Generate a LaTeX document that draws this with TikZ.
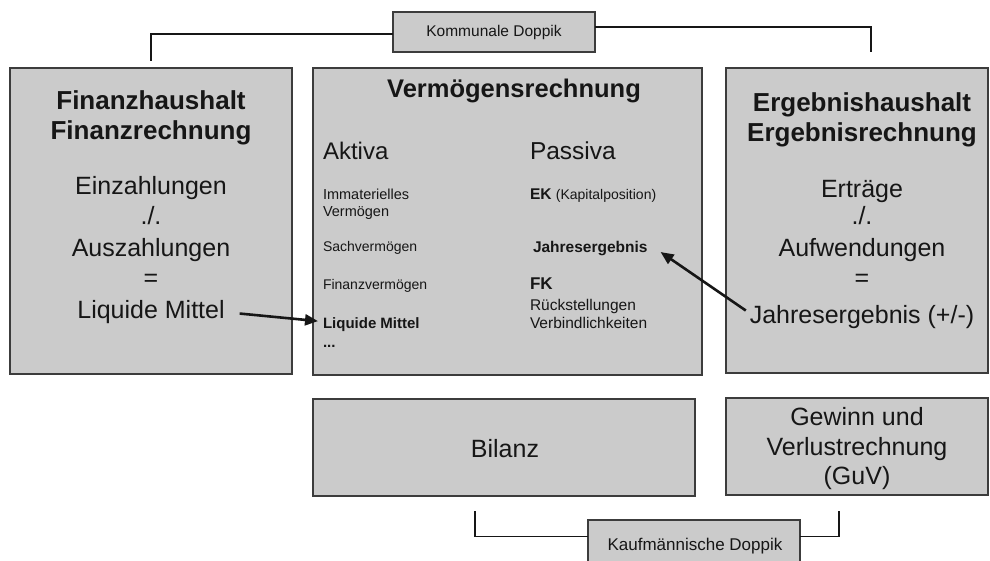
\documentclass[tikz,border=0pt]{standalone}
\usepackage{fontspec}
\setmainfont{Liberation Sans}
\usetikzlibrary{arrows.meta,calc}
\definecolor{boxfill}{RGB}{203,203,203}
\definecolor{edge}{RGB}{60,60,60}
\definecolor{ink}{RGB}{22,22,22}
\newcommand{\fsz}[1]{\fontsize{#1pt}{#1pt}\selectfont}
\tikzset{
  panel/.style={draw=edge, line width=1.3pt, fill=boxfill, inner sep=0pt, outer sep=0pt, anchor=north west},
  txt/.style={inner sep=0pt, outer sep=0pt, text=ink, anchor=base},
  txtl/.style={txt, anchor=base west},
  link/.style={draw=ink, line width=1.1pt},
  arr/.style={draw=ink, line width=2.6pt, -{Triangle[length=13pt,width=11pt]}},
  big/.style={font=\fsz{25}},
  bigb/.style={font=\fsz{26}\bfseries},
}
\begin{document}
\begin{tikzpicture}[x=1pt,y=-1pt]
\clip (0,0) rectangle (990,561);
\fill[white] (0,0) rectangle (990,561);

% panels
\node[panel, minimum width=282, minimum height=306] (fin) at (10,68) {};
\node[panel, minimum width=389, minimum height=307] (verm) at (313,68) {};
\node[panel, minimum width=262, minimum height=305] (erg) at (726,68) {};
\node[panel, minimum width=382, minimum height=97] (bil) at (313,399) {};
\node[panel, minimum width=262, minimum height=97] (guv) at (726,398) {};
\node[panel, minimum width=202, minimum height=40] (kom) at (393,12) {};
\node[panel, minimum width=212, minimum height=45] (kauf) at (588,520) {};

% label boxes text
\node[txt, font=\fsz{15.5}] (komt) at (494,37) {Kommunale Doppik};
\node[txt, font=\fsz{17}] (kauft) at (695,550) {Kaufmännische Doppik};

% left panel
\node[txt, bigb] (f1) at (151,110) {Finanzhaushalt};
\node[txt, bigb] (f2) at (151,140) {Finanzrechnung};
\node[txt, big] (f3) at (151,195) {Einzahlungen};
\node[txt, big] (f4) at (151,225) {./.};
\node[txt, big] (f5) at (151,257) {Auszahlungen};
\node[txt, big] (f6) at (151,287) {=};
\node[txt, big] (f7) at (151,318) {Liquide Mittel};

% middle panel
\node[txt, font=\fsz{25.5}\bfseries] (v0) at (514,98) {Vermögensrechnung};
\node[txtl, font=\fsz{24}] (va) at (323,160) {Aktiva};
\node[txtl, font=\fsz{24.5}] (vp) at (530,160) {Passiva};
\node[txtl, font=\fsz{14.5}] (a1) at (323,200) {Immaterielles};
\node[txtl, font=\fsz{14.5}] (a2) at (323,217) {Vermögen};
\node[txtl, font=\fsz{14}] (a3) at (323,252) {Sachvermögen};
\node[txtl, font=\fsz{14}] (a4) at (323,290) {Finanzvermögen};
\node[txtl, font=\fsz{15}\bfseries] (a5) at (323,328) {Liquide Mittel};
\node[txtl, font=\fsz{15}\bfseries] (a6) at (323,347) {...};
\node[txtl, font=\fsz{14}] (p1) at (530,200) {\fsz{15.5}\bfseries EK \fsz{14}\mdseries(Kapitalposition)};
\node[txtl, font=\fsz{15.5}\bfseries] (p2) at (533,253) {Jahresergebnis};
\node[txtl, font=\fsz{17}\bfseries] (p3) at (530,290) {FK};
\node[txtl, font=\fsz{15.5}] (p4) at (530,310) {Rückstellungen};
\node[txtl, font=\fsz{15.5}] (p5) at (530,328) {Verbindlichkeiten};

% right panel
\node[txt, bigb] (e1) at (862,112) {Ergebnishaushalt};
\node[txt, bigb] (e2) at (862,142) {Ergebnisrechnung};
\node[txt, big] (e3) at (862,198) {Erträge};
\node[txt, big] (e4) at (862,225) {./.};
\node[txt, big] (e5) at (862,257) {Aufwendungen};
\node[txt, big] (e6) at (862,287) {=};
\node[txt, big] (e7) at (862,323) {Jahresergebnis (+/-)};

% bottom panels
\node[txt, big] (b1) at (505,457) {Bilanz};
\node[txt, big] (g1) at (857,425) {Gewinn und};
\node[txt, big] (g2) at (857,455) {Verlustrechnung};
\node[txt, big] (g3) at (857,484) {(GuV)};

% brackets
\coordinate (tl) at (151,61);
\coordinate (tr) at (871,52);
\coordinate (bl) at (475,511);
\coordinate (br) at (839,511);
\draw[link] (tl) |- ($(kom.north west)!0.55!(kom.south west)$);
\draw[link] ($(kom.north east)!0.375!(kom.south east)$) -| (tr);
\draw[link] (bl) |- ($(kauf.north west)!0.36!(kauf.south west)$);
\draw[link] ($(kauf.north east)!0.36!(kauf.south east)$) -| (br);

% arrows
\draw[arr] ([shift={(15,2)}]f7.east) -- ([shift={(-5,-3)}]a5.west);
\draw[arr] ([shift={(-4,-6)}]e7.west) -- ([shift={(13,3)}]p2.east);
\end{tikzpicture}
\end{document}
